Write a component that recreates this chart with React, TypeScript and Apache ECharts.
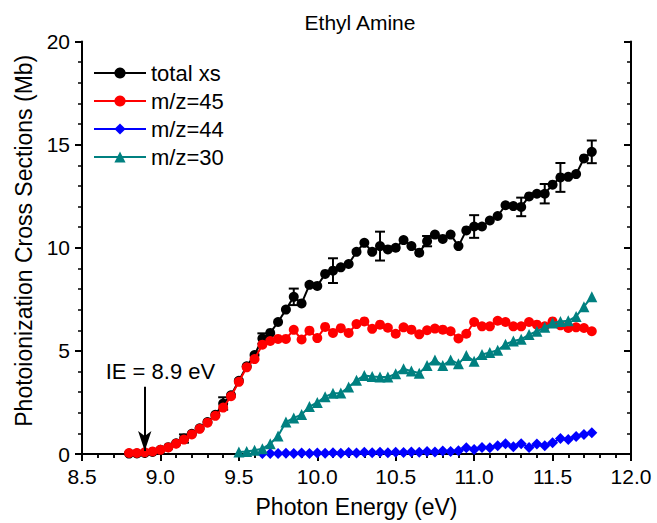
import React, { useEffect, useRef } from "react";
import * as echarts from "echarts";

const energies = [
  8.8, 8.85, 8.9, 8.95, 9.0, 9.05, 9.1, 9.15, 9.2, 9.25,
  9.3, 9.35, 9.4, 9.45, 9.5, 9.55, 9.6, 9.65, 9.7, 9.75,
  9.8, 9.85, 9.9, 9.95, 10.0, 10.05, 10.1, 10.15, 10.2, 10.25,
  10.3, 10.35, 10.4, 10.45, 10.5, 10.55, 10.6, 10.65, 10.7, 10.75,
  10.8, 10.85, 10.9, 10.95, 11.0, 11.05, 11.1, 11.15, 11.2, 11.25,
  11.3, 11.35, 11.4, 11.45, 11.5, 11.55, 11.6, 11.65, 11.7, 11.75,
];

const totalXs = [
  0.02, 0.03, 0.05, 0.1, 0.2, 0.33, 0.52, 0.75, 0.98, 1.25,
  1.55, 1.9, 2.45, 2.85, 3.55, 4.25, 4.8, 5.6, 5.87, 6.4,
  7.0, 7.62, 7.3, 8.2, 8.15, 8.73, 8.89, 9.05, 9.21, 9.8,
  10.24, 9.8, 10.08, 9.92, 10.0, 10.37, 10.08, 9.76, 10.32, 10.64,
  10.43, 10.64, 10.08, 10.84, 11.03, 11.03, 11.32, 11.54, 12.06, 12.02,
  11.98, 12.49, 12.62, 12.62, 13.06, 13.41, 13.44, 13.57, 14.33, 14.65,
];

const mz45 = [
  0.05, 0.05, 0.08, 0.12, 0.2, 0.32, 0.5, 0.7, 0.95, 1.22,
  1.52, 1.85, 2.25, 2.8, 3.5, 4.2, 4.6, 5.3, 5.48, 5.58,
  5.58, 6.02, 5.55, 5.98, 5.62, 6.16, 5.87, 6.1, 5.87, 6.3,
  6.43, 6.07, 6.27, 6.12, 5.83, 6.14, 6.03, 5.8, 6.0, 6.08,
  6.03, 5.95, 5.6, 5.83, 6.4, 6.19, 6.19, 6.46, 6.4, 6.19,
  6.19, 6.4, 6.27, 6.19, 6.43, 6.24, 6.11, 6.14, 6.11, 5.95,
];

// m/z=44 starts at 9.65 eV
const mz44Energies = energies.slice(17);
const mz44 = [
  0.02, 0.03, 0.02, 0.04, 0.03, 0.05, 0.03, 0.05, 0.04, 0.06,
  0.04, 0.07, 0.05, 0.08, 0.06, 0.08, 0.06, 0.09, 0.07, 0.1,
  0.08, 0.12, 0.1, 0.14, 0.12, 0.16, 0.3, 0.22, 0.32, 0.3,
  0.4, 0.5, 0.35, 0.5, 0.32, 0.48, 0.4, 0.55, 0.75, 0.7,
  0.85, 0.95, 1.03,
];

// m/z=30 starts at 9.50 eV
const mz30Energies = energies.slice(14);
const mz30 = [
  0.1, 0.12, 0.18, 0.25, 0.5, 0.87, 1.55, 1.75, 1.91, 2.3,
  2.5, 2.78, 2.94, 2.96, 3.25, 3.57, 3.81, 3.76, 3.73, 3.73,
  3.89, 4.13, 4.02, 3.92, 4.29, 4.56, 4.29, 4.56, 4.37, 4.77,
  4.5, 4.82, 4.92, 5.03, 5.32, 5.48, 5.56, 5.79, 5.95, 6.14,
  6.35, 6.43, 6.46, 6.67, 7.14, 7.62,
];

// error bars on total xs
const errEnergies = [9.15, 9.4, 9.65, 9.85, 10.1, 10.4, 10.7, 11.0, 11.3, 11.45, 11.55, 11.75];
const errHalf = [0.2, 0.3, 0.25, 0.4, 0.6, 0.7, 0.25, 0.55, 0.45, 0.47, 0.7, 0.55];

const xTicks = { min: 8.5, max: 12.0, interval: 0.5 };
const yTicks = { min: 0, max: 20, interval: 5 };

const FONT = "'Liberation Sans', Arial, Helvetica, sans-serif";

function pairs(xs: number[], ys: number[]) {
  return ys.map((y, i) => [xs[i], y]);
}

export default function App() {
  const ref = useRef<HTMLDivElement>(null);

  useEffect(() => {
    if (!ref.current) return;
    const chart = echarts.init(ref.current, undefined, { renderer: "svg" });

    const errData = errEnergies.map((e, i) => {
      const idx = energies.findIndex((v) => Math.abs(v - e) < 1e-6);
      const c = totalXs[idx];
      return [e, c - errHalf[i], c + errHalf[i]];
    });

    const axisLine = { show: true, lineStyle: { color: "#000", width: 2 } };

    const option: any = {
      animation: false,
      backgroundColor: "#fff",
      textStyle: { fontFamily: FONT },
      graphic: [
        {
          type: "text",
          x: 360,
          y: 12,
          style: {
            text: "Ethyl Amine",
            fontSize: 21,
            fontFamily: FONT,
            fill: "#000",
            textAlign: "center",
            textVerticalAlign: "top",
          },
        },
      ],
      grid: { left: 82, right: 26, top: 41.5, bottom: 61, containLabel: false },
      legend: {
        orient: "vertical",
        left: 93,
        top: 62,
        padding: 0,
        itemWidth: 52,
        itemHeight: 14,
        itemGap: 6,
        textStyle: { fontSize: 22, color: "#000", fontFamily: FONT, lineHeight: 22 },
        data: ["total xs", "m/z=45", "m/z=44", "m/z=30"],
      },
      xAxis: [
        {
          type: "value",
          position: "bottom",
          min: xTicks.min,
          max: xTicks.max,
          interval: xTicks.interval,
          name: "Photon Energy (eV)",
          nameLocation: "middle",
          nameGap: 41,
          nameTextStyle: { fontSize: 23, color: "#000", fontFamily: FONT },
          axisLine,
          axisTick: { show: true, inside: false, length: 7, lineStyle: { color: "#000", width: 2 } },
          minorTick: { show: true, splitNumber: 5, length: 4, lineStyle: { color: "#000", width: 1.5 } },
          splitLine: { show: false },
          axisLabel: {
            fontSize: 21,
            color: "#000",
            fontFamily: FONT,
            margin: 12,
            formatter: (v: number) => v.toFixed(1),
          },
        },
        {
          type: "value",
          position: "top",
          min: xTicks.min,
          max: xTicks.max,
          interval: xTicks.interval,
          axisLine,
          axisTick: { show: true, inside: true, length: 7, lineStyle: { color: "#000", width: 2 } },
          minorTick: { show: true, splitNumber: 5, length: 4, lineStyle: { color: "#000", width: 1.5 } },
          splitLine: { show: false },
          axisLabel: { show: false },
        },
      ],
      yAxis: [
        {
          type: "value",
          position: "left",
          min: yTicks.min,
          max: yTicks.max,
          interval: yTicks.interval,
          name: "Photoionization Cross Sections (Mb)",
          nameLocation: "middle",
          nameGap: 43,
          nameTextStyle: { fontSize: 23, color: "#000", fontFamily: FONT, padding: [0, 0, 0, 14] },
          axisLine,
          axisTick: { show: true, inside: false, length: 7, lineStyle: { color: "#000", width: 2 } },
          minorTick: { show: true, splitNumber: 5, length: 4, lineStyle: { color: "#000", width: 1.5 } },
          splitLine: { show: false },
          axisLabel: { fontSize: 21, color: "#000", fontFamily: FONT, margin: 12 },
        },
        {
          type: "value",
          position: "right",
          min: yTicks.min,
          max: yTicks.max,
          interval: yTicks.interval,
          axisLine,
          axisTick: { show: true, inside: true, length: 7, lineStyle: { color: "#000", width: 2 } },
          minorTick: { show: true, splitNumber: 5, length: 4, lineStyle: { color: "#000", width: 1.5 } },
          splitLine: { show: false },
          axisLabel: { show: false },
        },
      ],
      series: [
        {
          name: "total xs",
          type: "line",
          xAxisIndex: 0,
          yAxisIndex: 0,
          data: pairs(energies, totalXs),
          symbol: "circle",
          symbolSize: 10,
          itemStyle: { color: "#000" },
          lineStyle: { color: "#000", width: 2 },
          z: 2,
          markLine: {
            silent: true,
            symbol: ["none", "arrow"],
            symbolSize: [10, 20],
            label: { show: false },
            lineStyle: { color: "#000", width: 2, type: "solid" },
            data: [[{ coord: [8.9, 3.26] }, { coord: [8.9, 0.15] }]],
          },
          markPoint: {
            silent: true,
            symbol: "circle",
            symbolSize: 1,
            itemStyle: { color: "rgba(0,0,0,0)" },
            label: {
              show: true,
              position: "inside",
              formatter: "IE = 8.9 eV",
              fontSize: 22,
              color: "#000",
              fontFamily: FONT,
            },
            data: [{ coord: [9.0, 3.98] }],
          },
        },
        {
          name: "errbars",
          type: "custom",
          xAxisIndex: 0,
          yAxisIndex: 0,
          data: errData,
          z: 3,
          renderItem: (params: any, api: any) => {
            const x = api.value(0);
            const p1 = api.coord([x, api.value(1)]);
            const p2 = api.coord([x, api.value(2)]);
            const w = 5;
            const st = { stroke: "#000", lineWidth: 2 };
            return {
              type: "group",
              children: [
                { type: "line", shape: { x1: p1[0], y1: p1[1], x2: p2[0], y2: p2[1] }, style: st },
                { type: "line", shape: { x1: p1[0] - w, y1: p1[1], x2: p1[0] + w, y2: p1[1] }, style: st },
                { type: "line", shape: { x1: p2[0] - w, y1: p2[1], x2: p2[0] + w, y2: p2[1] }, style: st },
              ],
            };
          },
        },
        {
          name: "m/z=45",
          type: "line",
          data: pairs(energies, mz45),
          symbol: "circle",
          symbolSize: 10,
          itemStyle: { color: "#ff0000" },
          lineStyle: { color: "#ff0000", width: 2 },
          z: 4,
        },
        {
          name: "m/z=44",
          type: "line",
          data: pairs(mz44Energies, mz44),
          symbol: "diamond",
          symbolSize: [11, 11],
          itemStyle: { color: "#0000ff" },
          lineStyle: { color: "#0000ff", width: 2 },
          z: 5,
        },
        {
          name: "m/z=30",
          type: "line",
          data: pairs(mz30Energies, mz30),
          symbol: "triangle",
          symbolSize: 11,
          itemStyle: { color: "#008080" },
          lineStyle: { color: "#008080", width: 2 },
          z: 6,
        },
      ],
    };

    chart.setOption(option);
    return () => chart.dispose();
  }, []);

  return (
    <div
      ref={ref}
      style={{ position: "fixed", left: 0, top: 0, width: 657, height: 523, background: "#fff" }}
    />
  );
}
